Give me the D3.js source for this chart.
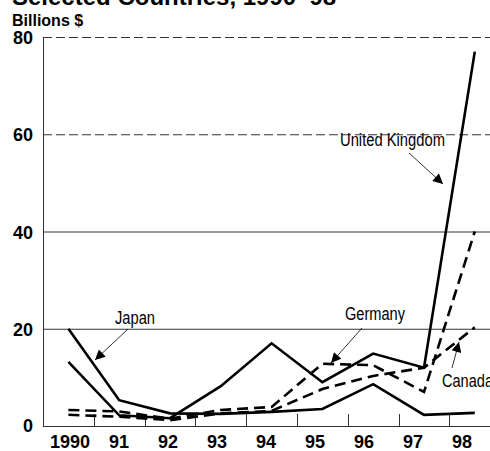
<!DOCTYPE html>
<html>
<head>
<meta charset="utf-8">
<script src="https://cdn.jsdelivr.net/npm/d3@7"></script>
<style>
  body { margin: 0; background: #fff; }
  svg { display: block; font-family: "Liberation Sans", Arial, sans-serif; }
</style>
</head>
<body>
<div id="chart-div"></div>
<script>
// Data (billions of dollars).
var years = ["1990", "91", "92", "93", "94", "95", "96", "97", "98"];
var yTicks = [0, 20, 40, 60, 80];
var japan   = [20.0, 5.3, 2.6, 2.5, 2.9, 3.5, 8.6, 2.3, 2.7];
var uk      = [13.2, 2.2, 1.6, 8.2, 17.0, 9.0, 14.9, 12.0, 77.0];
var germany = [3.3, 3.0, 1.5, 3.3, 3.9, 12.8, 12.5, 7.0, 40.0];
var canada  = [2.3, 1.9, 1.2, 2.6, 3.1, 7.6, 10.3, 12.0, 20.3];

var chart = { "svg": null,
    "x": null,
    "xLab": null,
    "y": null,
    "margin": {top: 37, right: 0, bottom: 25, left: 43}
};
chart.width = 490;
chart.height = 451;

// series drawing order and style
var series = [
    {name: "Japan", values: japan, dash: null},
    {name: "United Kingdom", values: uk, dash: null},
    {name: "Germany", values: germany, dash: "11,6"},
    {name: "Canada", values: canada, dash: "11,6"}
];

// label + leader arrows (annotation layout, pixel coords)
// Note: text is squeezed with textLength since the printed face is condensed.
var notes = [
    {text: "Japan", tx: 115, ty: 324, len: 40, x1: 128, y1: 329, x2: 95, y2: 360},
    {text: "United Kingdom", tx: 340, ty: 146, len: 105, x1: 409, y1: 153, x2: 443, y2: 184},
    {text: "Germany", tx: 345, ty: 320, len: 60, x1: 362, y1: 328, x2: 331, y2: 363},
    {text: "Canada", tx: 442, ty: 387, len: 51, x1: 452, y1: 368, x2: 459, y2: 342}
];

function renderChart() {
    d3.select("svg").remove();

    chart.svg = d3.select("#chart-div").append("svg")
        .attr("width", chart.width)
        .attr("height", chart.height);

    var svg = chart.svg;
    var bottom = 426;

    chart.x = d3.scaleBand().domain(years).range([chart.margin.left, chart.margin.left + 9 * 50.8]).padding(0);
    // the printed year labels sit on a slightly tighter spacing than the data
    chart.xLab = d3.scalePoint().domain(years).range([70, 462]);
    chart.y = d3.scaleLinear().domain([0, 80]).range([bottom, chart.margin.top]);

    svg.append("defs").append("marker")
        .attr("id", "arrow")
        .attr("viewBox", "0 0 10 10")
        .attr("refX", 10).attr("refY", 5)
        .attr("markerWidth", 15).attr("markerHeight", 10)
        .attr("markerUnits", "userSpaceOnUse")
        .attr("orient", "auto")
        .append("path")
        .attr("d", "M0,0L10,5L0,10Z")
        .attr("fill", "#000");

    // title (cut off at top in the reference)
    svg.append("text")
        .attr("x", 12).attr("y", 5)
        .attr("font-size", "24px").attr("font-weight", "bold")
        .text("Selected Countries, 1990–98");

    svg.append("text")
        .attr("x", 12).attr("y", 26)
        .attr("font-size", "16px").attr("font-weight", "bold")
        .text("Billions $");

    // horizontal grid lines
    svg.selectAll(".grid")
        .data(yTicks.filter(function(d) { return d > 0; }))
        .enter().append("line")
        .attr("class", "grid")
        .attr("x1", chart.margin.left).attr("x2", chart.width)
        .attr("y1", function(d) { return chart.y(d) + 0.5; })
        .attr("y2", function(d) { return chart.y(d) + 0.5; })
        .attr("stroke", "#333")
        .attr("stroke-width", 1)
        .attr("stroke-dasharray", function(d) { return d >= 60 ? "9,4" : null; });

    // y axis line + labels
    svg.append("line")
        .attr("x1", chart.margin.left + 0.5).attr("x2", chart.margin.left + 0.5)
        .attr("y1", chart.y(80)).attr("y2", bottom)
        .attr("stroke", "#333").attr("stroke-width", 1);

    svg.selectAll(".ylab")
        .data(yTicks)
        .enter().append("text")
        .attr("class", "ylab")
        .attr("x", 33)
        .attr("y", function(d) { return chart.y(d) + (d === 0 ? 6 : 7); })
        .attr("text-anchor", "end")
        .attr("font-size", "18px").attr("font-weight", "bold")
        .text(function(d) { return d; });

    // x axis: baseline, inward ticks between years, year labels
    svg.append("line")
        .attr("x1", chart.margin.left).attr("x2", chart.width)
        .attr("y1", bottom + 0.5).attr("y2", bottom + 0.5)
        .attr("stroke", "#333").attr("stroke-width", 1.2);

    svg.selectAll(".xtick")
        .data(years.slice(1))
        .enter().append("line")
        .attr("class", "xtick")
        .attr("x1", function(d) { return Math.round(chart.x(d)) + 0.5; })
        .attr("x2", function(d) { return Math.round(chart.x(d)) + 0.5; })
        .attr("y1", bottom).attr("y2", bottom - 12)
        .attr("stroke", "#333").attr("stroke-width", 1);

    svg.selectAll(".xlab")
        .data(years)
        .enter().append("text")
        .attr("class", "xlab")
        .attr("x", function(d) { return chart.xLab(d); })
        .attr("y", 448)
        .attr("text-anchor", "middle")
        .attr("font-size", "18px").attr("font-weight", "bold")
        .text(function(d) { return d; });

    // the four country lines
    var line = d3.line()
        .x(function(d, i) { return chart.x(years[i]) + chart.x.bandwidth() / 2; })
        .y(function(d) { return chart.y(d); });

    svg.selectAll(".series")
        .data(series)
        .enter().append("path")
        .attr("class", "series")
        .attr("d", function(d) { return line(d.values); })
        .attr("fill", "none")
        .attr("stroke", "#000")
        .attr("stroke-width", 2.6)
        .attr("stroke-linejoin", "miter")
        .attr("stroke-dasharray", function(d) { return d.dash; });

    // labels with leader arrows
    var g = svg.selectAll(".note").data(notes).enter().append("g").attr("class", "note");
    g.append("line")
        .attr("x1", function(d) { return d.x1; }).attr("y1", function(d) { return d.y1; })
        .attr("x2", function(d) { return d.x2; }).attr("y2", function(d) { return d.y2; })
        .attr("stroke", "#000").attr("stroke-width", 0.8)
        .attr("marker-end", "url(#arrow)");
    g.append("text")
        .attr("x", function(d) { return d.tx; })
        .attr("y", function(d) { return d.ty; })
        .attr("textLength", function(d) { return d.len; })
        .attr("lengthAdjust", "spacingAndGlyphs")
        .attr("font-size", "17.5px")
        .attr("fill", "#000")
        .text(function(d) { return d.text; });
}

renderChart();
</script>
</body>
</html>
